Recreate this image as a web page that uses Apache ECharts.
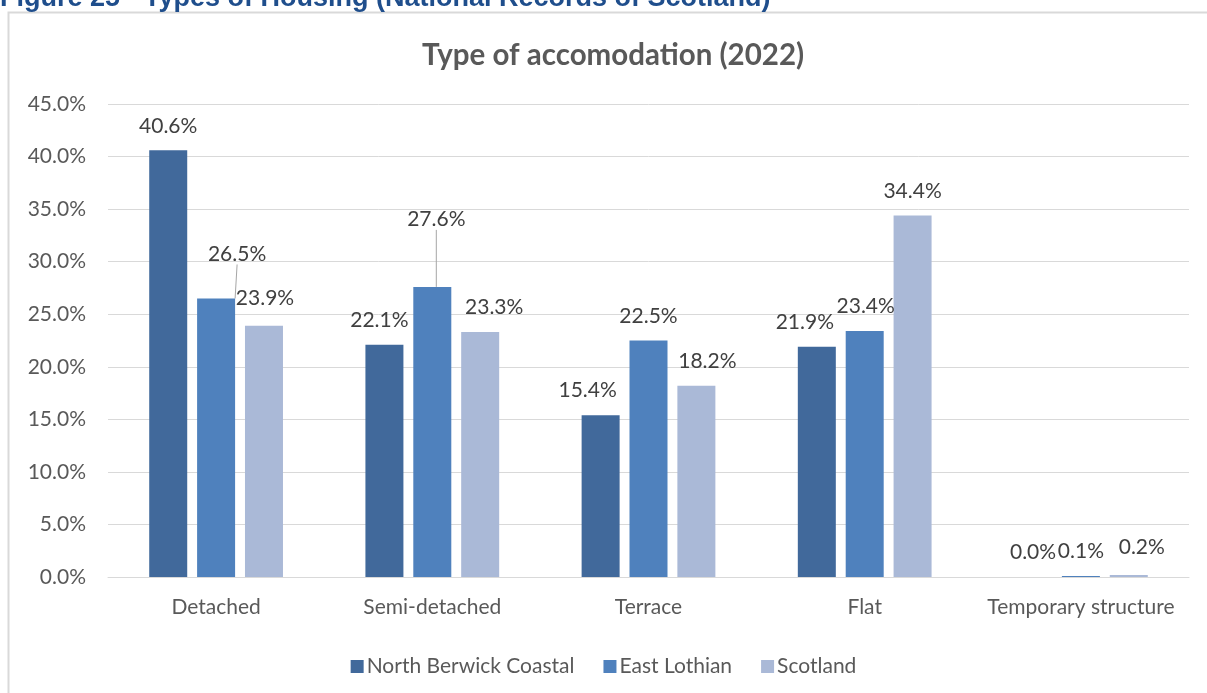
<!DOCTYPE html>
<html>
<head>
<meta charset="utf-8">
<script src="https://cdn.jsdelivr.net/npm/echarts@6/dist/echarts.min.js"></script>
<style>
html,body{margin:0;padding:0;background:#fff;}
#chart{width:1207px;height:693px;}
</style>
</head>
<body>
<div id="chart"></div>
<script>
var categories = ['Detached', 'Semi-detached', 'Terrace', 'Flat', 'Temporary structure'];
var seriesNames = ['North Berwick Coastal', 'East Lothian', 'Scotland'];
var northBerwickCoastal = [40.6, 22.1, 15.4, 21.9, 0.0];
var eastLothian = [26.5, 27.6, 22.5, 23.4, 0.1];
var scotland = [23.9, 23.3, 18.2, 34.4, 0.2];
var yTicks = [0, 5, 10, 15, 20, 25, 30, 35, 40, 45];

// label nudges (Excel-style manual label placement), separate from data
var labelShift = [
  [[0,0],[-5,0],[-13,0],[-12,0],[0,0]],
  [[21,-20],[4,-43],[0,0],[1,0],[0,0]],
  [[1,-3],[14,0],[11,0],[0,0],[13,-3]]
];
var leaderLines = [[], [0,1], []];

var colors = ['#41699b', '#4f81bd', '#aab9d7'];
var FONT = 'Lato';
var FS = 21;

function buildData(values, si) {
  return values.map(function (v, i) {
    var item = { value: v };
    if (leaderLines[si].indexOf(i) >= 0) {
      item.labelLine = { show: true, lineStyle: { color: '#a6a6a6', width: 1 } };
    }
    return item;
  });
}

var allValues = [northBerwickCoastal, eastLothian, scotland];
var series = allValues.map(function (vals, si) {
  return {
    name: seriesNames[si],
    type: 'bar',
    data: buildData(vals, si),
    barWidth: 38,
    barGap: '26%',
    itemStyle: { color: colors[si] },
    label: {
      show: true,
      position: 'top',
      distance: 14,
      fontFamily: FONT,
      fontSize: FS,
      color: '#404040',
      formatter: function (p) { return p.value.toFixed(1) + '%'; }
    },
    labelLine: { show: false },
    labelLayout: function (p) {
      var s = labelShift[si][p.dataIndex];
      return { dx: s[0], dy: s[1] };
    }
  };
});

var chart = echarts.init(document.getElementById('chart'), null, { renderer: 'canvas' });
chart.setOption({
  backgroundColor: '#fff',
  animation: false,
  title: [{
    text: 'Type of accomodation (2022)',
    left: 422,
    top: 40,
    padding: 0,
    textStyle: { fontFamily: FONT, fontSize: 29.5, fontWeight: 'bold', color: '#595959' }
  }, {
    text: 'Figure 25 - Types of Housing (National Records of Scotland)',
    left: 0,
    top: -15,
    padding: 0,
    textStyle: { fontFamily: 'Liberation Sans', fontSize: 27, fontWeight: 'bold', color: '#1f4e8c' }
  }],
  graphic: [{
    type: 'rect',
    z: -1,
    shape: { x: 8.5, y: 12.5, width: 1400, height: 900 },
    style: { fill: null, stroke: '#d9d9d9', lineWidth: 2 }
  }],
  legend: {
    data: seriesNames,
    left: 'center',
    top: 651,
    itemWidth: 13,
    itemHeight: 13,
    itemGap: 29,
    icon: 'rect',
    textStyle: { fontFamily: FONT, fontSize: FS, color: '#595959', padding: [0,0,0,-2] }
  },
  grid: { left: 108, right: 18, top: 104, bottom: 116, containLabel: false },
  xAxis: {
    type: 'category',
    data: categories,
    axisTick: { show: false },
    axisLine: { lineStyle: { color: '#d9d9d9', width: 1 } },
    axisLabel: { interval: 0, fontFamily: FONT, fontSize: FS, color: '#595959', margin: 20 }
  },
  yAxis: {
    type: 'value',
    min: yTicks[0],
    max: yTicks[yTicks.length - 1],
    interval: yTicks[1] - yTicks[0],
    axisLine: { show: false },
    axisTick: { show: false },
    splitLine: { lineStyle: { color: '#d9d9d9', width: 1 } },
    axisLabel: {
      fontFamily: FONT, fontSize: FS, color: '#595959', margin: 22,
      formatter: function (v) { return v.toFixed(1) + '%'; }
    }
  },
  series: series
});
</script>
</body>
</html>
